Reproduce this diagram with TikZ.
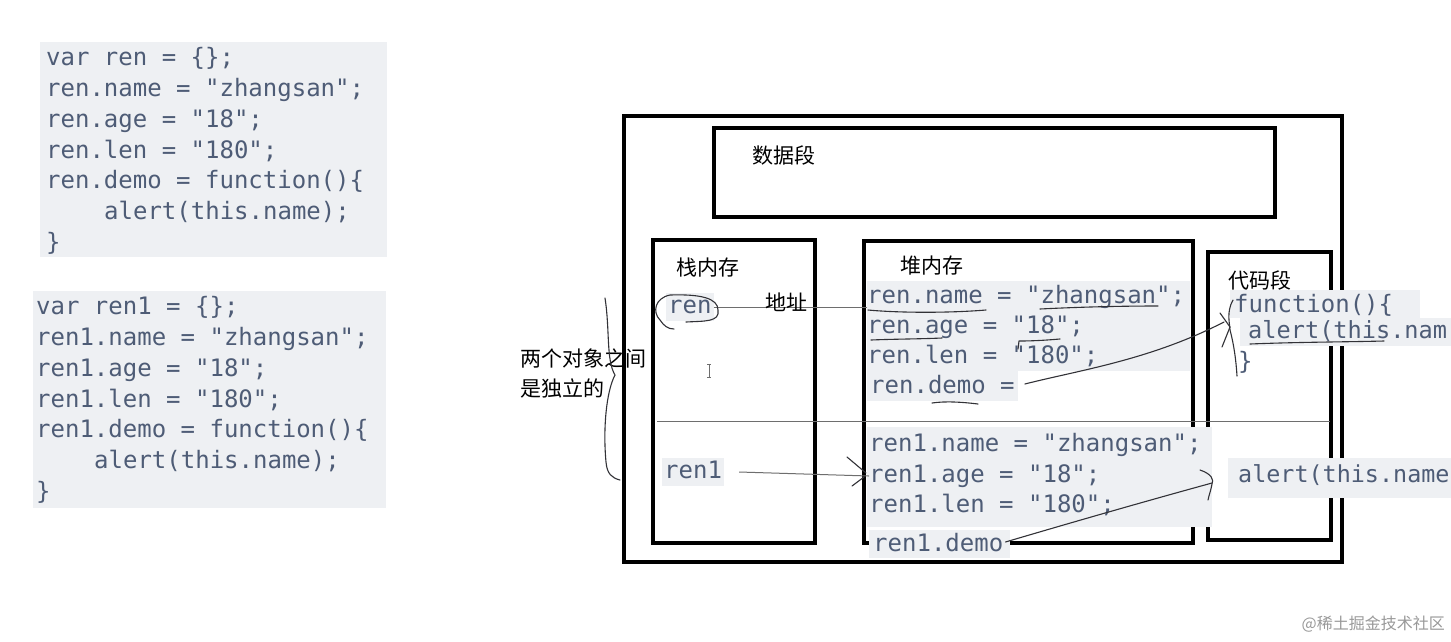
\documentclass[tikz,border=0pt]{standalone}
\usepackage{fontspec}
\setmonofont{DejaVu Sans Mono}
\newfontfamily\cjk{Noto Sans CJK SC}
\definecolor{codefg}{RGB}{78,92,118}
\definecolor{codebg}{RGB}{238,240,243}
\definecolor{handc}{RGB}{50,50,55}
\definecolor{thinc}{RGB}{110,110,110}
\tikzset{
  code/.style={font=\ttfamily\fontsize{24}{24}\selectfont, text=codefg, inner sep=0pt, anchor=west, text height=17pt, text depth=5pt},
  lbl/.style={font=\cjk\fontsize{21}{21}\selectfont, inner sep=0pt, anchor=west},
  membox/.style={draw=black, line width=4pt, inner sep=0pt},
  outerbox/.style={draw=black, line width=3.5pt, inner sep=0pt},
  hand/.style={draw=handc, line width=1.1pt, line cap=round, line join=round},
  thinline/.style={draw=thinc, line width=1pt},
}
\begin{document}
\begin{tikzpicture}[x=1pt,y=-1pt]
\useasboundingbox (0,0) rectangle (1451,641);
\clip (0,0) rectangle (1451,641);
\fill[white] (0,0) rectangle (1451,641);
% left code blocks
\fill[codebg] (40,42) rectangle (387,257);
\fill[codebg] (33,291) rectangle (386,508);
\node[code] (a1) at (46,59) {var ren = \{\};};
\node[code] (a2) at (46,90) {ren.name = "zhangsan";};
\node[code] (a3) at (46,121) {ren.age = "18";};
\node[code] (a4) at (46,152) {ren.len = "180";};
\node[code] (a5) at (46,182) {ren.demo = function()\{};
\node[code] (a6) at (104,213) {alert(this.name);};
\node[code] (a7) at (46,244) {\}};
\node[code] (b1) at (36,308) {var ren1 = \{\};};
\node[code] (b2) at (36,339) {ren1.name = "zhangsan";};
\node[code] (b3) at (36,370) {ren1.age = "18";};
\node[code] (b4) at (36,401) {ren1.len = "180";};
\node[code] (b5) at (36,431) {ren1.demo = function()\{};
\node[code] (b6) at (94,462) {alert(this.name);};
\node[code] (b7) at (36,493) {\}};
% boxes
\node[outerbox, minimum width=718pt, minimum height=446pt] (outer) at (983,339) {};
\node[membox, minimum width=561pt, minimum height=89pt] (data) at (994.5,172.5) {};
\node[membox, minimum width=162pt, minimum height=303pt] (stack) at (734,391.5) {};
\node[membox, minimum width=329pt, minimum height=302pt] (heap) at (1028.5,392) {};
\node[membox, minimum width=123pt, minimum height=288pt] (cseg) at (1269.5,396) {};
\draw[thinline] (657,421) -- (1330,421);
% labels
\node[lbl] (ldata) at (752,155) {数据段};
\node[lbl] (lstack) at (676,268) {栈内存};
\node[lbl] (lheap) at (900,266) {堆内存};
\node[lbl] (lcseg) at (1228,280) {代码段};
\node[lbl] (lsep1) at (520,358) {两个对象之间};
\node[lbl] (lsep2) at (520,388) {是独立的};
% heap contents
\fill[codebg] (867,281) rectangle (1190,371);
\fill[codebg] (867,371) rectangle (1018,401);
\fill[codebg] (867,427) rectangle (1212,527);
\fill[codebg] (869,530) rectangle (1010,558);
\node[code] (h1) at (867,297) {ren.name = "zhangsan";};
\node[code] (h2) at (867,327) {ren.age = "18";};
\node[code] (h3) at (867,357) {ren.len = "180";};
\node[code] (h4) at (870,387) {ren.demo =};
\node[code] (g1) at (869,445) {ren1.name = "zhangsan";};
\node[code] (g2) at (869,476) {ren1.age = "18";};
\node[code] (g3) at (869,506) {ren1.len = "180";};
\node[code] (g4) at (873,545) {ren1.demo};
% code segment contents
\fill[codebg] (1230,290) rectangle (1420,318);
\fill[codebg] (1240,318) rectangle (1451,346);
\fill[codebg] (1228,458) rectangle (1451,498);
\node[code] (f1) at (1234,306) {function()\{};
\node[code, font=\ttfamily\fontsize{23.6}{24}\selectfont] (f2) at (1248,332) {alert(this.nam};
\node[code] (f3) at (1238,363) {\}};
\node[code, font=\ttfamily\fontsize{23.4}{24}\selectfont] (f4) at (1238,476) {alert(this.name};
% stack contents
\node[code, fill=codebg, inner xsep=2pt, inner ysep=3pt] (sren) at (666,307) {ren};
\node[code, fill=codebg, inner xsep=2pt, inner ysep=3pt] (sren1) at (662,472) {ren1};
% connectors
\draw[thinline] (sren.east) -- (sren.east -| h1.west);
\node[lbl] (addr) at (765,302) {地址};
\draw[thinline] ([xshift=15pt]sren1.east) -- (g2.west);
\draw[hand] (847,457) -- (866,473) (852,486) -- (864,477);
% hand drawn scribbles
\draw[hand] (686,322) .. controls (705,321) and (720,322) .. (718,310)
  .. controls (718,298) and (700,294) .. (670,295)
  .. controls (655,298) and (652,312) .. (660,320)
  .. controls (664,326) and (668,329) .. (674,329);
\draw[hand] (605,298) .. controls (610,330) and (606,360) .. (615,375)
  .. controls (606,392) and (603,430) .. (606,462)
  .. controls (607,474) and (612,478) .. (620,480);
\draw[hand] (868,310) .. controls (900,313) and (950,313) .. (986,310);
\draw[hand] (1040,309) .. controls (1080,307) and (1120,306) .. (1158,306);
\draw[hand] (871,340) .. controls (895,339) and (920,339) .. (942,338);
\draw[hand] (1018,349) -- (1019,341) .. controls (1035,341) and (1048,340) .. (1060,339);
\draw[hand] (932,403) .. controls (945,401) and (962,402) .. (978,404);
\draw[hand] (1250,344) .. controls (1300,342) and (1345,342) .. (1384,341);
\draw[hand] (h4.east) ++(10,-3) .. controls (1080,370) and (1150,360) .. (1224,322);
\draw[hand] (1220,313) -- (1230,327) -- (1222,347);
\draw[hand] (1233,300) .. controls (1226,312) and (1230,325) .. (1230,330)
  .. controls (1234,345) and (1236,360) .. (1237,376);
\draw[hand] (g4.east) ++(2,-3) .. controls (1080,520) and (1150,500) .. (1212,483);
\draw[hand] (1200,470) .. controls (1212,474) and (1214,480) .. (1212,484)
  .. controls (1211,490) and (1209,495) .. (1208,500);
% cursor
\draw[draw=thinc, line width=1pt] (707,364) -- (711,364) (709,364) -- (709,377) (707,377) -- (711,377);
% watermark
\node[font=\cjk\fontsize{16}{16}\selectfont, text=black!40, anchor=east, inner sep=0pt] (wm) at (1445,624) {@稀土掘金技术社区};
\end{tikzpicture}
\end{document}
